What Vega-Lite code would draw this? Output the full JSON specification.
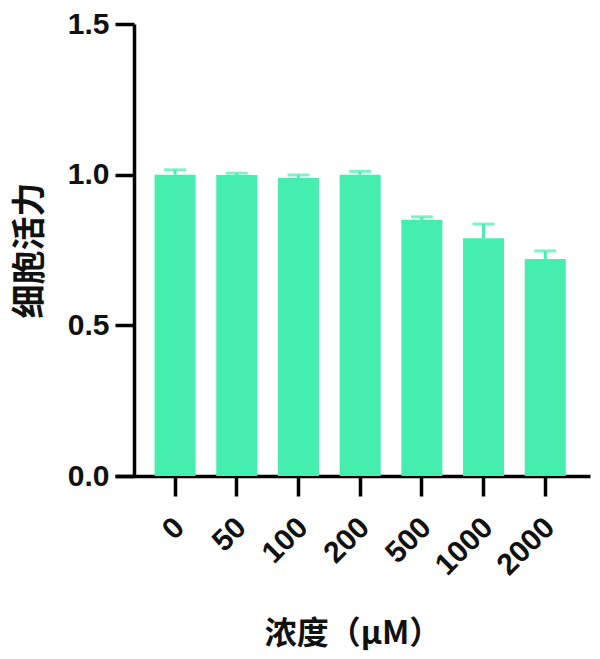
{
  "$schema": "https://vega.github.io/schema/vega-lite/v6.json",
  "width": 475,
  "height": 452,
  "autosize": {"type": "none"},
  "padding": {"left": 115, "top": 24, "right": 10, "bottom": 183},
  "background": "white",
  "config": {"view": {"stroke": null}},
  "data": {
    "values": [
      {"conc": "0", "mean": 1.000, "upper": 1.016},
      {"conc": "50", "mean": 0.999, "upper": 1.005},
      {"conc": "100", "mean": 0.989, "upper": 0.999},
      {"conc": "200", "mean": 1.000, "upper": 1.011},
      {"conc": "500", "mean": 0.850, "upper": 0.860},
      {"conc": "1000", "mean": 0.789, "upper": 0.836},
      {"conc": "2000", "mean": 0.720, "upper": 0.747}
    ]
  },
  "encoding": {
    "x": {
      "field": "conc",
      "type": "ordinal",
      "sort": null,
      "scale": {"paddingInner": 0.335, "paddingOuter": 0.517, "align": 0.62},
      "axis": {
        "title": "浓度（μM）",
        "titleFont": "Noto Sans CJK SC",
        "titleFontWeight": "bold",
        "titleFontSize": 32,
        "titleColor": "#111",
        "titlePadding": 38,
        "labelAngle": -45,
        "labelFont": "Liberation Sans",
        "labelFontWeight": "bold",
        "labelFontSize": 30,
        "labelColor": "#111",
        "labelPadding": 16,
        "labelOffset": -6,
        "domainColor": "#000",
        "domainWidth": 3.5,
        "tickColor": "#000",
        "tickWidth": 3.5,
        "tickSize": 20
      }
    }
  },
  "layer": [
    {
      "mark": {"type": "bar", "color": "#45EEAE"},
      "encoding": {
        "y": {
          "field": "mean",
          "type": "quantitative",
          "scale": {"domain": [0, 1.5], "nice": false},
          "axis": {
            "title": "细胞活力",
            "titleFont": "Noto Sans CJK SC",
            "titleFontWeight": "bold",
            "titleFontSize": 34,
            "titleColor": "#111",
            "titlePadding": 20,
            "values": [0, 0.5, 1, 1.5],
            "format": ".1f",
            "offset": -19,
            "grid": false,
            "labelFont": "Liberation Sans",
            "labelFontWeight": "bold",
            "labelFontSize": 30,
            "labelColor": "#111",
            "labelPadding": 6,
            "domainColor": "#000",
            "domainWidth": 3.5,
            "tickColor": "#000",
            "tickWidth": 3.5,
            "tickSize": 19
          }
        }
      }
    },
    {
      "mark": {"type": "rule", "color": "#45EEAE", "strokeWidth": 3},
      "encoding": {
        "y": {"field": "mean", "type": "quantitative"},
        "y2": {"field": "upper"}
      }
    },
    {
      "mark": {"type": "tick", "color": "#45EEAE", "size": 22, "thickness": 3},
      "encoding": {
        "y": {"field": "upper", "type": "quantitative"}
      }
    }
  ]
}
